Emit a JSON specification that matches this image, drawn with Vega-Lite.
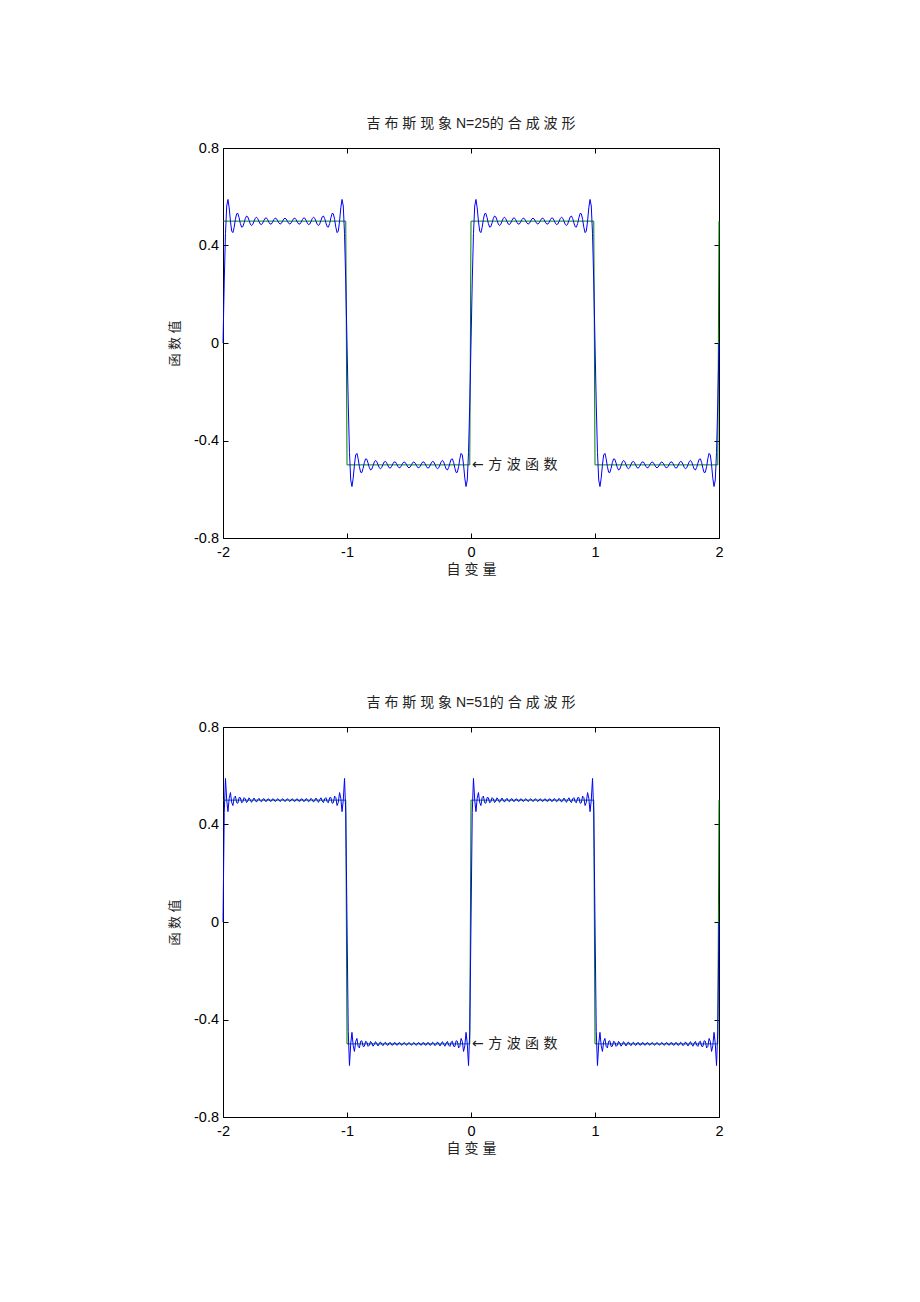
{
"$schema":"https://vega.github.io/schema/vega-lite/v6.json",
"background":"white",
"padding":{"left":168,"top":117,"right":0,"bottom":0},
"spacing":119,
"config":{
"view":{"stroke":null},
"font":"Liberation Sans, Noto Sans CJK SC",
"axis":{"grid":false,"domainColor":"black","domainWidth":1,"tickColor":"black","tickSize":-5,"tickWidth":1,"labelColor":"black","labelFont":"Liberation Sans","labelFontSize":14.5,"labelFlush":false,"titleFont":"Liberation Sans, Noto Sans CJK SC","titleFontSize":13,"titleFontWeight":"normal","titleColor":"#222222"},
"axisX":{"labelPadding":12,"titleFontSize":14},
"axisY":{"labelPadding":9.5,"titlePadding":12},
"title":{"font":"Liberation Sans, Noto Sans CJK SC","fontSize":14,"fontWeight":"normal","color":"#222222","offset":9}
},
"datasets":{
"sq":[{"x":-2,"y":0.5},{"x":-1.01,"y":0.5},{"x":-1,"y":-0.5},{"x":-0.01,"y":-0.5},{"x":0,"y":0.5},{"x":0.99,"y":0.5},{"x":1,"y":-0.5},{"x":1.99,"y":-0.5},{"x":2,"y":0.5}],
"n25":[
{"x":-2,"y":0},{"x":-1.99,"y":0.2505},{"x":-1.98,"y":0.4488},{"x":-1.97,"y":0.5622},{"x":-1.96,"y":0.5889},{"x":-1.95,"y":0.5546},{"x":-1.94,"y":0.4995},{"x":-1.93,"y":0.4594},{"x":-1.92,"y":0.4528},{"x":-1.91,"y":0.4747},{"x":-1.9,"y":0.5074},{"x":-1.89,"y":0.5302},{"x":-1.88,"y":0.5314},{"x":-1.87,"y":0.5137},{"x":-1.86,"y":0.4901},{"x":-1.85,"y":0.4754},{"x":-1.84,"y":0.4772},{"x":-1.83,"y":0.4926},{"x":-1.82,"y":0.511},{"x":-1.81,"y":0.521},{"x":-1.8,"y":0.5174},{"x":-1.79,"y":0.5035},{"x":-1.78,"y":0.4885},{"x":-1.77,"y":0.4817},{"x":-1.76,"y":0.4865},{"x":-1.75,"y":0.4993},{"x":-1.74,"y":0.5118},{"x":-1.73,"y":0.5162},{"x":-1.72,"y":0.5105},{"x":-1.71,"y":0.4985},{"x":-1.7,"y":0.4881},{"x":-1.69,"y":0.4855},{"x":-1.68,"y":0.492},{"x":-1.67,"y":0.5032},{"x":-1.66,"y":0.5121},{"x":-1.65,"y":0.5131},{"x":-1.64,"y":0.506},{"x":-1.63,"y":0.4953},{"x":-1.62,"y":0.4879},{"x":-1.61,"y":0.4882},{"x":-1.6,"y":0.4959},{"x":-1.59,"y":0.506},{"x":-1.58,"y":0.5122},{"x":-1.57,"y":0.5106},{"x":-1.56,"y":0.5024},{"x":-1.55,"y":0.4928},{"x":-1.54,"y":0.4878},{"x":-1.53,"y":0.4905},{"x":-1.52,"y":0.4992},{"x":-1.51,"y":0.5084},{"x":-1.5,"y":0.5122},{"x":-1.49,"y":0.5084},{"x":-1.48,"y":0.4992},{"x":-1.47,"y":0.4905},{"x":-1.46,"y":0.4878},{"x":-1.45,"y":0.4928},{"x":-1.44,"y":0.5024},{"x":-1.43,"y":0.5106},{"x":-1.42,"y":0.5122},{"x":-1.41,"y":0.506},{"x":-1.4,"y":0.4959},{"x":-1.39,"y":0.4882},{"x":-1.38,"y":0.4879},{"x":-1.37,"y":0.4953},{"x":-1.36,"y":0.506},{"x":-1.35,"y":0.5131},{"x":-1.34,"y":0.5121},{"x":-1.33,"y":0.5032},{"x":-1.32,"y":0.492},{"x":-1.31,"y":0.4855},{"x":-1.3,"y":0.4881},{"x":-1.29,"y":0.4985},{"x":-1.28,"y":0.5105},{"x":-1.27,"y":0.5162},{"x":-1.26,"y":0.5118},{"x":-1.25,"y":0.4993},{"x":-1.24,"y":0.4865},{"x":-1.23,"y":0.4817},{"x":-1.22,"y":0.4885},{"x":-1.21,"y":0.5035},{"x":-1.2,"y":0.5174},{"x":-1.19,"y":0.521},{"x":-1.18,"y":0.511},{"x":-1.17,"y":0.4926},{"x":-1.16,"y":0.4772},{"x":-1.15,"y":0.4754},{"x":-1.14,"y":0.4901},{"x":-1.13,"y":0.5137},{"x":-1.12,"y":0.5314},{"x":-1.11,"y":0.5302},{"x":-1.1,"y":0.5074},{"x":-1.09,"y":0.4747},{"x":-1.08,"y":0.4528},{"x":-1.07,"y":0.4594},{"x":-1.06,"y":0.4995},{"x":-1.05,"y":0.5546},{"x":-1.04,"y":0.5889},{"x":-1.03,"y":0.5622},{"x":-1.02,"y":0.4488},{"x":-1.01,"y":0.2505},
{"x":-1,"y":0},{"x":-0.99,"y":-0.2505},{"x":-0.98,"y":-0.4488},{"x":-0.97,"y":-0.5622},{"x":-0.96,"y":-0.5889},{"x":-0.95,"y":-0.5546},{"x":-0.94,"y":-0.4995},{"x":-0.93,"y":-0.4594},{"x":-0.92,"y":-0.4528},{"x":-0.91,"y":-0.4747},{"x":-0.9,"y":-0.5074},{"x":-0.89,"y":-0.5302},{"x":-0.88,"y":-0.5314},{"x":-0.87,"y":-0.5137},{"x":-0.86,"y":-0.4901},{"x":-0.85,"y":-0.4754},{"x":-0.84,"y":-0.4772},{"x":-0.83,"y":-0.4926},{"x":-0.82,"y":-0.511},{"x":-0.81,"y":-0.521},{"x":-0.8,"y":-0.5174},{"x":-0.79,"y":-0.5035},{"x":-0.78,"y":-0.4885},{"x":-0.77,"y":-0.4817},{"x":-0.76,"y":-0.4865},{"x":-0.75,"y":-0.4993},{"x":-0.74,"y":-0.5118},{"x":-0.73,"y":-0.5162},{"x":-0.72,"y":-0.5105},{"x":-0.71,"y":-0.4985},{"x":-0.7,"y":-0.4881},{"x":-0.69,"y":-0.4855},{"x":-0.68,"y":-0.492},{"x":-0.67,"y":-0.5032},{"x":-0.66,"y":-0.5121},{"x":-0.65,"y":-0.5131},{"x":-0.64,"y":-0.506},{"x":-0.63,"y":-0.4953},{"x":-0.62,"y":-0.4879},{"x":-0.61,"y":-0.4882},{"x":-0.6,"y":-0.4959},{"x":-0.59,"y":-0.506},{"x":-0.58,"y":-0.5122},{"x":-0.57,"y":-0.5106},{"x":-0.56,"y":-0.5024},{"x":-0.55,"y":-0.4928},{"x":-0.54,"y":-0.4878},{"x":-0.53,"y":-0.4905},{"x":-0.52,"y":-0.4992},{"x":-0.51,"y":-0.5084},{"x":-0.5,"y":-0.5122},{"x":-0.49,"y":-0.5084},{"x":-0.48,"y":-0.4992},{"x":-0.47,"y":-0.4905},{"x":-0.46,"y":-0.4878},{"x":-0.45,"y":-0.4928},{"x":-0.44,"y":-0.5024},{"x":-0.43,"y":-0.5106},{"x":-0.42,"y":-0.5122},{"x":-0.41,"y":-0.506},{"x":-0.4,"y":-0.4959},{"x":-0.39,"y":-0.4882},{"x":-0.38,"y":-0.4879},{"x":-0.37,"y":-0.4953},{"x":-0.36,"y":-0.506},{"x":-0.35,"y":-0.5131},{"x":-0.34,"y":-0.5121},{"x":-0.33,"y":-0.5032},{"x":-0.32,"y":-0.492},{"x":-0.31,"y":-0.4855},{"x":-0.3,"y":-0.4881},{"x":-0.29,"y":-0.4985},{"x":-0.28,"y":-0.5105},{"x":-0.27,"y":-0.5162},{"x":-0.26,"y":-0.5118},{"x":-0.25,"y":-0.4993},{"x":-0.24,"y":-0.4865},{"x":-0.23,"y":-0.4817},{"x":-0.22,"y":-0.4885},{"x":-0.21,"y":-0.5035},{"x":-0.2,"y":-0.5174},{"x":-0.19,"y":-0.521},{"x":-0.18,"y":-0.511},{"x":-0.17,"y":-0.4926},{"x":-0.16,"y":-0.4772},{"x":-0.15,"y":-0.4754},{"x":-0.14,"y":-0.4901},{"x":-0.13,"y":-0.5137},{"x":-0.12,"y":-0.5314},{"x":-0.11,"y":-0.5302},{"x":-0.1,"y":-0.5074},{"x":-0.09,"y":-0.4747},{"x":-0.08,"y":-0.4528},{"x":-0.07,"y":-0.4594},{"x":-0.06,"y":-0.4995},{"x":-0.05,"y":-0.5546},{"x":-0.04,"y":-0.5889},{"x":-0.03,"y":-0.5622},{"x":-0.02,"y":-0.4488},{"x":-0.01,"y":-0.2505},
{"x":0,"y":0},{"x":0.01,"y":0.2505},{"x":0.02,"y":0.4488},{"x":0.03,"y":0.5622},{"x":0.04,"y":0.5889},{"x":0.05,"y":0.5546},{"x":0.06,"y":0.4995},{"x":0.07,"y":0.4594},{"x":0.08,"y":0.4528},{"x":0.09,"y":0.4747},{"x":0.1,"y":0.5074},{"x":0.11,"y":0.5302},{"x":0.12,"y":0.5314},{"x":0.13,"y":0.5137},{"x":0.14,"y":0.4901},{"x":0.15,"y":0.4754},{"x":0.16,"y":0.4772},{"x":0.17,"y":0.4926},{"x":0.18,"y":0.511},{"x":0.19,"y":0.521},{"x":0.2,"y":0.5174},{"x":0.21,"y":0.5035},{"x":0.22,"y":0.4885},{"x":0.23,"y":0.4817},{"x":0.24,"y":0.4865},{"x":0.25,"y":0.4993},{"x":0.26,"y":0.5118},{"x":0.27,"y":0.5162},{"x":0.28,"y":0.5105},{"x":0.29,"y":0.4985},{"x":0.3,"y":0.4881},{"x":0.31,"y":0.4855},{"x":0.32,"y":0.492},{"x":0.33,"y":0.5032},{"x":0.34,"y":0.5121},{"x":0.35,"y":0.5131},{"x":0.36,"y":0.506},{"x":0.37,"y":0.4953},{"x":0.38,"y":0.4879},{"x":0.39,"y":0.4882},{"x":0.4,"y":0.4959},{"x":0.41,"y":0.506},{"x":0.42,"y":0.5122},{"x":0.43,"y":0.5106},{"x":0.44,"y":0.5024},{"x":0.45,"y":0.4928},{"x":0.46,"y":0.4878},{"x":0.47,"y":0.4905},{"x":0.48,"y":0.4992},{"x":0.49,"y":0.5084},{"x":0.5,"y":0.5122},{"x":0.51,"y":0.5084},{"x":0.52,"y":0.4992},{"x":0.53,"y":0.4905},{"x":0.54,"y":0.4878},{"x":0.55,"y":0.4928},{"x":0.56,"y":0.5024},{"x":0.57,"y":0.5106},{"x":0.58,"y":0.5122},{"x":0.59,"y":0.506},{"x":0.6,"y":0.4959},{"x":0.61,"y":0.4882},{"x":0.62,"y":0.4879},{"x":0.63,"y":0.4953},{"x":0.64,"y":0.506},{"x":0.65,"y":0.5131},{"x":0.66,"y":0.5121},{"x":0.67,"y":0.5032},{"x":0.68,"y":0.492},{"x":0.69,"y":0.4855},{"x":0.7,"y":0.4881},{"x":0.71,"y":0.4985},{"x":0.72,"y":0.5105},{"x":0.73,"y":0.5162},{"x":0.74,"y":0.5118},{"x":0.75,"y":0.4993},{"x":0.76,"y":0.4865},{"x":0.77,"y":0.4817},{"x":0.78,"y":0.4885},{"x":0.79,"y":0.5035},{"x":0.8,"y":0.5174},{"x":0.81,"y":0.521},{"x":0.82,"y":0.511},{"x":0.83,"y":0.4926},{"x":0.84,"y":0.4772},{"x":0.85,"y":0.4754},{"x":0.86,"y":0.4901},{"x":0.87,"y":0.5137},{"x":0.88,"y":0.5314},{"x":0.89,"y":0.5302},{"x":0.9,"y":0.5074},{"x":0.91,"y":0.4747},{"x":0.92,"y":0.4528},{"x":0.93,"y":0.4594},{"x":0.94,"y":0.4995},{"x":0.95,"y":0.5546},{"x":0.96,"y":0.5889},{"x":0.97,"y":0.5622},{"x":0.98,"y":0.4488},{"x":0.99,"y":0.2505},
{"x":1,"y":0},{"x":1.01,"y":-0.2505},{"x":1.02,"y":-0.4488},{"x":1.03,"y":-0.5622},{"x":1.04,"y":-0.5889},{"x":1.05,"y":-0.5546},{"x":1.06,"y":-0.4995},{"x":1.07,"y":-0.4594},{"x":1.08,"y":-0.4528},{"x":1.09,"y":-0.4747},{"x":1.1,"y":-0.5074},{"x":1.11,"y":-0.5302},{"x":1.12,"y":-0.5314},{"x":1.13,"y":-0.5137},{"x":1.14,"y":-0.4901},{"x":1.15,"y":-0.4754},{"x":1.16,"y":-0.4772},{"x":1.17,"y":-0.4926},{"x":1.18,"y":-0.511},{"x":1.19,"y":-0.521},{"x":1.2,"y":-0.5174},{"x":1.21,"y":-0.5035},{"x":1.22,"y":-0.4885},{"x":1.23,"y":-0.4817},{"x":1.24,"y":-0.4865},{"x":1.25,"y":-0.4993},{"x":1.26,"y":-0.5118},{"x":1.27,"y":-0.5162},{"x":1.28,"y":-0.5105},{"x":1.29,"y":-0.4985},{"x":1.3,"y":-0.4881},{"x":1.31,"y":-0.4855},{"x":1.32,"y":-0.492},{"x":1.33,"y":-0.5032},{"x":1.34,"y":-0.5121},{"x":1.35,"y":-0.5131},{"x":1.36,"y":-0.506},{"x":1.37,"y":-0.4953},{"x":1.38,"y":-0.4879},{"x":1.39,"y":-0.4882},{"x":1.4,"y":-0.4959},{"x":1.41,"y":-0.506},{"x":1.42,"y":-0.5122},{"x":1.43,"y":-0.5106},{"x":1.44,"y":-0.5024},{"x":1.45,"y":-0.4928},{"x":1.46,"y":-0.4878},{"x":1.47,"y":-0.4905},{"x":1.48,"y":-0.4992},{"x":1.49,"y":-0.5084},{"x":1.5,"y":-0.5122},{"x":1.51,"y":-0.5084},{"x":1.52,"y":-0.4992},{"x":1.53,"y":-0.4905},{"x":1.54,"y":-0.4878},{"x":1.55,"y":-0.4928},{"x":1.56,"y":-0.5024},{"x":1.57,"y":-0.5106},{"x":1.58,"y":-0.5122},{"x":1.59,"y":-0.506},{"x":1.6,"y":-0.4959},{"x":1.61,"y":-0.4882},{"x":1.62,"y":-0.4879},{"x":1.63,"y":-0.4953},{"x":1.64,"y":-0.506},{"x":1.65,"y":-0.5131},{"x":1.66,"y":-0.5121},{"x":1.67,"y":-0.5032},{"x":1.68,"y":-0.492},{"x":1.69,"y":-0.4855},{"x":1.7,"y":-0.4881},{"x":1.71,"y":-0.4985},{"x":1.72,"y":-0.5105},{"x":1.73,"y":-0.5162},{"x":1.74,"y":-0.5118},{"x":1.75,"y":-0.4993},{"x":1.76,"y":-0.4865},{"x":1.77,"y":-0.4817},{"x":1.78,"y":-0.4885},{"x":1.79,"y":-0.5035},{"x":1.8,"y":-0.5174},{"x":1.81,"y":-0.521},{"x":1.82,"y":-0.511},{"x":1.83,"y":-0.4926},{"x":1.84,"y":-0.4772},{"x":1.85,"y":-0.4754},{"x":1.86,"y":-0.4901},{"x":1.87,"y":-0.5137},{"x":1.88,"y":-0.5314},{"x":1.89,"y":-0.5302},{"x":1.9,"y":-0.5074},{"x":1.91,"y":-0.4747},{"x":1.92,"y":-0.4528},{"x":1.93,"y":-0.4594},{"x":1.94,"y":-0.4995},{"x":1.95,"y":-0.5546},{"x":1.96,"y":-0.5889},{"x":1.97,"y":-0.5622},{"x":1.98,"y":-0.4488},{"x":1.99,"y":-0.2505},{"x":2,"y":0}
],
"n51":[
{"x":-2,"y":0},{"x":-1.99,"y":0.4488},{"x":-1.98,"y":0.5888},{"x":-1.97,"y":0.4995},{"x":-1.96,"y":0.4528},{"x":-1.95,"y":0.5075},{"x":-1.94,"y":0.531},{"x":-1.93,"y":0.4904},{"x":-1.92,"y":0.4778},{"x":-1.91,"y":0.5104},{"x":-1.9,"y":0.5166},{"x":-1.89,"y":0.4893},{"x":-1.88,"y":0.4874},{"x":-1.87,"y":0.5107},{"x":-1.86,"y":0.5096},{"x":-1.85,"y":0.4894},{"x":-1.84,"y":0.4928},{"x":-1.83,"y":0.5103},{"x":-1.82,"y":0.5052},{"x":-1.81,"y":0.49},{"x":-1.8,"y":0.4965},{"x":-1.79,"y":0.5096},{"x":-1.78,"y":0.502},{"x":-1.77,"y":0.4909},{"x":-1.76,"y":0.4993},{"x":-1.75,"y":0.5086},{"x":-1.74,"y":0.4996},{"x":-1.73,"y":0.4919},{"x":-1.72,"y":0.5014},{"x":-1.71,"y":0.5075},{"x":-1.7,"y":0.4978},{"x":-1.69,"y":0.4931},{"x":-1.68,"y":0.503},{"x":-1.67,"y":0.5063},{"x":-1.66,"y":0.4963},{"x":-1.65,"y":0.4944},{"x":-1.64,"y":0.5043},{"x":-1.63,"y":0.5049},{"x":-1.62,"y":0.4952},{"x":-1.61,"y":0.4958},{"x":-1.6,"y":0.5052},{"x":-1.59,"y":0.5034},{"x":-1.58,"y":0.4945},{"x":-1.57,"y":0.4973},{"x":-1.56,"y":0.5058},{"x":-1.55,"y":0.5019},{"x":-1.54,"y":0.494},{"x":-1.53,"y":0.4988},{"x":-1.52,"y":0.5061},{"x":-1.51,"y":0.5004},{"x":-1.5,"y":0.4939},{"x":-1.49,"y":0.5004},{"x":-1.48,"y":0.5061},{"x":-1.47,"y":0.4988},{"x":-1.46,"y":0.494},{"x":-1.45,"y":0.5019},{"x":-1.44,"y":0.5058},{"x":-1.43,"y":0.4973},{"x":-1.42,"y":0.4945},{"x":-1.41,"y":0.5034},{"x":-1.4,"y":0.5052},{"x":-1.39,"y":0.4958},{"x":-1.38,"y":0.4952},{"x":-1.37,"y":0.5049},{"x":-1.36,"y":0.5043},{"x":-1.35,"y":0.4944},{"x":-1.34,"y":0.4963},{"x":-1.33,"y":0.5063},{"x":-1.32,"y":0.503},{"x":-1.31,"y":0.4931},{"x":-1.3,"y":0.4978},{"x":-1.29,"y":0.5075},{"x":-1.28,"y":0.5014},{"x":-1.27,"y":0.4919},{"x":-1.26,"y":0.4996},{"x":-1.25,"y":0.5086},{"x":-1.24,"y":0.4993},{"x":-1.23,"y":0.4909},{"x":-1.22,"y":0.502},{"x":-1.21,"y":0.5096},{"x":-1.2,"y":0.4965},{"x":-1.19,"y":0.49},{"x":-1.18,"y":0.5052},{"x":-1.17,"y":0.5103},{"x":-1.16,"y":0.4928},{"x":-1.15,"y":0.4894},{"x":-1.14,"y":0.5096},{"x":-1.13,"y":0.5107},{"x":-1.12,"y":0.4874},{"x":-1.11,"y":0.4893},{"x":-1.1,"y":0.5166},{"x":-1.09,"y":0.5104},{"x":-1.08,"y":0.4778},{"x":-1.07,"y":0.4904},{"x":-1.06,"y":0.531},{"x":-1.05,"y":0.5075},{"x":-1.04,"y":0.4528},{"x":-1.03,"y":0.4995},{"x":-1.02,"y":0.5888},{"x":-1.01,"y":0.4488},
{"x":-1,"y":0},{"x":-0.99,"y":-0.4488},{"x":-0.98,"y":-0.5888},{"x":-0.97,"y":-0.4995},{"x":-0.96,"y":-0.4528},{"x":-0.95,"y":-0.5075},{"x":-0.94,"y":-0.531},{"x":-0.93,"y":-0.4904},{"x":-0.92,"y":-0.4778},{"x":-0.91,"y":-0.5104},{"x":-0.9,"y":-0.5166},{"x":-0.89,"y":-0.4893},{"x":-0.88,"y":-0.4874},{"x":-0.87,"y":-0.5107},{"x":-0.86,"y":-0.5096},{"x":-0.85,"y":-0.4894},{"x":-0.84,"y":-0.4928},{"x":-0.83,"y":-0.5103},{"x":-0.82,"y":-0.5052},{"x":-0.81,"y":-0.49},{"x":-0.8,"y":-0.4965},{"x":-0.79,"y":-0.5096},{"x":-0.78,"y":-0.502},{"x":-0.77,"y":-0.4909},{"x":-0.76,"y":-0.4993},{"x":-0.75,"y":-0.5086},{"x":-0.74,"y":-0.4996},{"x":-0.73,"y":-0.4919},{"x":-0.72,"y":-0.5014},{"x":-0.71,"y":-0.5075},{"x":-0.7,"y":-0.4978},{"x":-0.69,"y":-0.4931},{"x":-0.68,"y":-0.503},{"x":-0.67,"y":-0.5063},{"x":-0.66,"y":-0.4963},{"x":-0.65,"y":-0.4944},{"x":-0.64,"y":-0.5043},{"x":-0.63,"y":-0.5049},{"x":-0.62,"y":-0.4952},{"x":-0.61,"y":-0.4958},{"x":-0.6,"y":-0.5052},{"x":-0.59,"y":-0.5034},{"x":-0.58,"y":-0.4945},{"x":-0.57,"y":-0.4973},{"x":-0.56,"y":-0.5058},{"x":-0.55,"y":-0.5019},{"x":-0.54,"y":-0.494},{"x":-0.53,"y":-0.4988},{"x":-0.52,"y":-0.5061},{"x":-0.51,"y":-0.5004},{"x":-0.5,"y":-0.4939},{"x":-0.49,"y":-0.5004},{"x":-0.48,"y":-0.5061},{"x":-0.47,"y":-0.4988},{"x":-0.46,"y":-0.494},{"x":-0.45,"y":-0.5019},{"x":-0.44,"y":-0.5058},{"x":-0.43,"y":-0.4973},{"x":-0.42,"y":-0.4945},{"x":-0.41,"y":-0.5034},{"x":-0.4,"y":-0.5052},{"x":-0.39,"y":-0.4958},{"x":-0.38,"y":-0.4952},{"x":-0.37,"y":-0.5049},{"x":-0.36,"y":-0.5043},{"x":-0.35,"y":-0.4944},{"x":-0.34,"y":-0.4963},{"x":-0.33,"y":-0.5063},{"x":-0.32,"y":-0.503},{"x":-0.31,"y":-0.4931},{"x":-0.3,"y":-0.4978},{"x":-0.29,"y":-0.5075},{"x":-0.28,"y":-0.5014},{"x":-0.27,"y":-0.4919},{"x":-0.26,"y":-0.4996},{"x":-0.25,"y":-0.5086},{"x":-0.24,"y":-0.4993},{"x":-0.23,"y":-0.4909},{"x":-0.22,"y":-0.502},{"x":-0.21,"y":-0.5096},{"x":-0.2,"y":-0.4965},{"x":-0.19,"y":-0.49},{"x":-0.18,"y":-0.5052},{"x":-0.17,"y":-0.5103},{"x":-0.16,"y":-0.4928},{"x":-0.15,"y":-0.4894},{"x":-0.14,"y":-0.5096},{"x":-0.13,"y":-0.5107},{"x":-0.12,"y":-0.4874},{"x":-0.11,"y":-0.4893},{"x":-0.1,"y":-0.5166},{"x":-0.09,"y":-0.5104},{"x":-0.08,"y":-0.4778},{"x":-0.07,"y":-0.4904},{"x":-0.06,"y":-0.531},{"x":-0.05,"y":-0.5075},{"x":-0.04,"y":-0.4528},{"x":-0.03,"y":-0.4995},{"x":-0.02,"y":-0.5888},{"x":-0.01,"y":-0.4488},
{"x":0,"y":0},{"x":0.01,"y":0.4488},{"x":0.02,"y":0.5888},{"x":0.03,"y":0.4995},{"x":0.04,"y":0.4528},{"x":0.05,"y":0.5075},{"x":0.06,"y":0.531},{"x":0.07,"y":0.4904},{"x":0.08,"y":0.4778},{"x":0.09,"y":0.5104},{"x":0.1,"y":0.5166},{"x":0.11,"y":0.4893},{"x":0.12,"y":0.4874},{"x":0.13,"y":0.5107},{"x":0.14,"y":0.5096},{"x":0.15,"y":0.4894},{"x":0.16,"y":0.4928},{"x":0.17,"y":0.5103},{"x":0.18,"y":0.5052},{"x":0.19,"y":0.49},{"x":0.2,"y":0.4965},{"x":0.21,"y":0.5096},{"x":0.22,"y":0.502},{"x":0.23,"y":0.4909},{"x":0.24,"y":0.4993},{"x":0.25,"y":0.5086},{"x":0.26,"y":0.4996},{"x":0.27,"y":0.4919},{"x":0.28,"y":0.5014},{"x":0.29,"y":0.5075},{"x":0.3,"y":0.4978},{"x":0.31,"y":0.4931},{"x":0.32,"y":0.503},{"x":0.33,"y":0.5063},{"x":0.34,"y":0.4963},{"x":0.35,"y":0.4944},{"x":0.36,"y":0.5043},{"x":0.37,"y":0.5049},{"x":0.38,"y":0.4952},{"x":0.39,"y":0.4958},{"x":0.4,"y":0.5052},{"x":0.41,"y":0.5034},{"x":0.42,"y":0.4945},{"x":0.43,"y":0.4973},{"x":0.44,"y":0.5058},{"x":0.45,"y":0.5019},{"x":0.46,"y":0.494},{"x":0.47,"y":0.4988},{"x":0.48,"y":0.5061},{"x":0.49,"y":0.5004},{"x":0.5,"y":0.4939},{"x":0.51,"y":0.5004},{"x":0.52,"y":0.5061},{"x":0.53,"y":0.4988},{"x":0.54,"y":0.494},{"x":0.55,"y":0.5019},{"x":0.56,"y":0.5058},{"x":0.57,"y":0.4973},{"x":0.58,"y":0.4945},{"x":0.59,"y":0.5034},{"x":0.6,"y":0.5052},{"x":0.61,"y":0.4958},{"x":0.62,"y":0.4952},{"x":0.63,"y":0.5049},{"x":0.64,"y":0.5043},{"x":0.65,"y":0.4944},{"x":0.66,"y":0.4963},{"x":0.67,"y":0.5063},{"x":0.68,"y":0.503},{"x":0.69,"y":0.4931},{"x":0.7,"y":0.4978},{"x":0.71,"y":0.5075},{"x":0.72,"y":0.5014},{"x":0.73,"y":0.4919},{"x":0.74,"y":0.4996},{"x":0.75,"y":0.5086},{"x":0.76,"y":0.4993},{"x":0.77,"y":0.4909},{"x":0.78,"y":0.502},{"x":0.79,"y":0.5096},{"x":0.8,"y":0.4965},{"x":0.81,"y":0.49},{"x":0.82,"y":0.5052},{"x":0.83,"y":0.5103},{"x":0.84,"y":0.4928},{"x":0.85,"y":0.4894},{"x":0.86,"y":0.5096},{"x":0.87,"y":0.5107},{"x":0.88,"y":0.4874},{"x":0.89,"y":0.4893},{"x":0.9,"y":0.5166},{"x":0.91,"y":0.5104},{"x":0.92,"y":0.4778},{"x":0.93,"y":0.4904},{"x":0.94,"y":0.531},{"x":0.95,"y":0.5075},{"x":0.96,"y":0.4528},{"x":0.97,"y":0.4995},{"x":0.98,"y":0.5888},{"x":0.99,"y":0.4488},
{"x":1,"y":0},{"x":1.01,"y":-0.4488},{"x":1.02,"y":-0.5888},{"x":1.03,"y":-0.4995},{"x":1.04,"y":-0.4528},{"x":1.05,"y":-0.5075},{"x":1.06,"y":-0.531},{"x":1.07,"y":-0.4904},{"x":1.08,"y":-0.4778},{"x":1.09,"y":-0.5104},{"x":1.1,"y":-0.5166},{"x":1.11,"y":-0.4893},{"x":1.12,"y":-0.4874},{"x":1.13,"y":-0.5107},{"x":1.14,"y":-0.5096},{"x":1.15,"y":-0.4894},{"x":1.16,"y":-0.4928},{"x":1.17,"y":-0.5103},{"x":1.18,"y":-0.5052},{"x":1.19,"y":-0.49},{"x":1.2,"y":-0.4965},{"x":1.21,"y":-0.5096},{"x":1.22,"y":-0.502},{"x":1.23,"y":-0.4909},{"x":1.24,"y":-0.4993},{"x":1.25,"y":-0.5086},{"x":1.26,"y":-0.4996},{"x":1.27,"y":-0.4919},{"x":1.28,"y":-0.5014},{"x":1.29,"y":-0.5075},{"x":1.3,"y":-0.4978},{"x":1.31,"y":-0.4931},{"x":1.32,"y":-0.503},{"x":1.33,"y":-0.5063},{"x":1.34,"y":-0.4963},{"x":1.35,"y":-0.4944},{"x":1.36,"y":-0.5043},{"x":1.37,"y":-0.5049},{"x":1.38,"y":-0.4952},{"x":1.39,"y":-0.4958},{"x":1.4,"y":-0.5052},{"x":1.41,"y":-0.5034},{"x":1.42,"y":-0.4945},{"x":1.43,"y":-0.4973},{"x":1.44,"y":-0.5058},{"x":1.45,"y":-0.5019},{"x":1.46,"y":-0.494},{"x":1.47,"y":-0.4988},{"x":1.48,"y":-0.5061},{"x":1.49,"y":-0.5004},{"x":1.5,"y":-0.4939},{"x":1.51,"y":-0.5004},{"x":1.52,"y":-0.5061},{"x":1.53,"y":-0.4988},{"x":1.54,"y":-0.494},{"x":1.55,"y":-0.5019},{"x":1.56,"y":-0.5058},{"x":1.57,"y":-0.4973},{"x":1.58,"y":-0.4945},{"x":1.59,"y":-0.5034},{"x":1.6,"y":-0.5052},{"x":1.61,"y":-0.4958},{"x":1.62,"y":-0.4952},{"x":1.63,"y":-0.5049},{"x":1.64,"y":-0.5043},{"x":1.65,"y":-0.4944},{"x":1.66,"y":-0.4963},{"x":1.67,"y":-0.5063},{"x":1.68,"y":-0.503},{"x":1.69,"y":-0.4931},{"x":1.7,"y":-0.4978},{"x":1.71,"y":-0.5075},{"x":1.72,"y":-0.5014},{"x":1.73,"y":-0.4919},{"x":1.74,"y":-0.4996},{"x":1.75,"y":-0.5086},{"x":1.76,"y":-0.4993},{"x":1.77,"y":-0.4909},{"x":1.78,"y":-0.502},{"x":1.79,"y":-0.5096},{"x":1.8,"y":-0.4965},{"x":1.81,"y":-0.49},{"x":1.82,"y":-0.5052},{"x":1.83,"y":-0.5103},{"x":1.84,"y":-0.4928},{"x":1.85,"y":-0.4894},{"x":1.86,"y":-0.5096},{"x":1.87,"y":-0.5107},{"x":1.88,"y":-0.4874},{"x":1.89,"y":-0.4893},{"x":1.9,"y":-0.5166},{"x":1.91,"y":-0.5104},{"x":1.92,"y":-0.4778},{"x":1.93,"y":-0.4904},{"x":1.94,"y":-0.531},{"x":1.95,"y":-0.5075},{"x":1.96,"y":-0.4528},{"x":1.97,"y":-0.4995},{"x":1.98,"y":-0.5888},{"x":1.99,"y":-0.4488},{"x":2,"y":0}
],
"note":[{"x":0,"y":-0.5,"label":"← 方 波 函 数"}]
},
"vconcat":[
{
"title":{"text":"吉 布 斯 现 象 N=25的 合 成 波 形"},
"width":496,"height":390,
"layer":[
{"data":{"name":"sq"},"mark":{"type":"line","color":"#008000","strokeWidth":1},
"encoding":{"x":{"field":"x","type":"quantitative","scale":{"domain":[-2,2],"nice":false},"axis":{"orient":"bottom","values":[-2,-1,0,1,2],"title":"自 变 量","labelExpr":"replace(datum.label,'−','-')"}},
"y":{"field":"y","type":"quantitative","scale":{"domain":[-0.8,0.8],"nice":false},"axis":{"orient":"left","values":[-0.8,-0.4,0,0.4,0.8],"title":"函 数 值","labelExpr":"datum.value==0?'0':replace(format(datum.value,'.1f'),'−','-')"}}}},
{"data":{"name":"n25"},"mark":{"type":"line","color":"#0000FF","strokeWidth":1},
"encoding":{"x":{"field":"x","type":"quantitative","axis":{"orient":"top","values":[-2,-1,0,1,2],"labels":false,"title":null}},
"y":{"field":"y","type":"quantitative","axis":{"orient":"right","values":[-0.8,-0.4,0,0.4,0.8],"labels":false,"title":null}}}},
{"data":{"name":"note"},"mark":{"type":"text","align":"left","baseline":"middle","dx":1,"fontSize":14,"font":"DejaVu Sans, Noto Sans CJK SC","color":"#222222"},
"encoding":{"x":{"field":"x","type":"quantitative","axis":null},"y":{"field":"y","type":"quantitative","axis":null},"text":{"field":"label"}}}
],
"resolve":{"axis":{"x":"independent","y":"independent"}}
},
{
"title":{"text":"吉 布 斯 现 象 N=51的 合 成 波 形"},
"width":496,"height":390,
"layer":[
{"data":{"name":"sq"},"mark":{"type":"line","color":"#008000","strokeWidth":1},
"encoding":{"x":{"field":"x","type":"quantitative","scale":{"domain":[-2,2],"nice":false},"axis":{"orient":"bottom","values":[-2,-1,0,1,2],"title":"自 变 量","labelExpr":"replace(datum.label,'−','-')"}},
"y":{"field":"y","type":"quantitative","scale":{"domain":[-0.8,0.8],"nice":false},"axis":{"orient":"left","values":[-0.8,-0.4,0,0.4,0.8],"title":"函 数 值","labelExpr":"datum.value==0?'0':replace(format(datum.value,'.1f'),'−','-')"}}}},
{"data":{"name":"n51"},"mark":{"type":"line","color":"#0000FF","strokeWidth":1},
"encoding":{"x":{"field":"x","type":"quantitative","axis":{"orient":"top","values":[-2,-1,0,1,2],"labels":false,"title":null}},
"y":{"field":"y","type":"quantitative","axis":{"orient":"right","values":[-0.8,-0.4,0,0.4,0.8],"labels":false,"title":null}}}},
{"data":{"name":"note"},"mark":{"type":"text","align":"left","baseline":"middle","dx":1,"fontSize":14,"font":"DejaVu Sans, Noto Sans CJK SC","color":"#222222"},
"encoding":{"x":{"field":"x","type":"quantitative","axis":null},"y":{"field":"y","type":"quantitative","axis":null},"text":{"field":"label"}}}
],
"resolve":{"axis":{"x":"independent","y":"independent"}}
}
]
}
